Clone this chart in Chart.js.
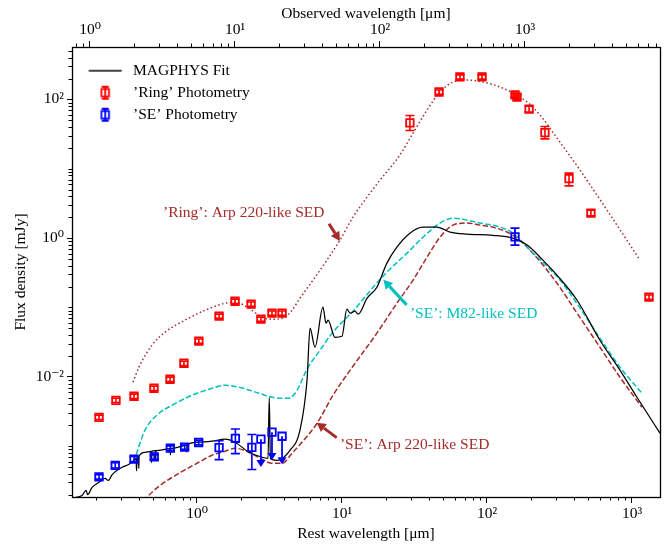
<!DOCTYPE html>
<html>
<head>
<meta charset="utf-8">
<script src="https://cdn.jsdelivr.net/npm/chart.js@4.4.1/dist/chart.umd.min.js"></script>
<style>
html,body{margin:0;padding:0;background:#ffffff;}
canvas{display:block;}
</style>
</head>
<body>
<canvas id="sed" width="669" height="545"></canvas>
<script>
// ---------------- DATA ----------------
// MAGPHYS fit (rest wavelength in micron, flux density in mJy)
const fitWavelength = [0.14, 0.161, 0.172, 0.176, 0.189, 0.21, 0.232, 0.245, 0.26, 0.304, 0.34, 0.368, 0.38, 0.383, 0.386, 0.395, 0.397, 0.399, 0.438, 0.483, 0.486, 0.489, 0.517, 0.519, 0.521, 0.547, 0.653, 0.656, 0.659, 0.673, 0.826, 0.85, 0.853, 0.856, 1.03, 1.27, 1.56, 1.83, 2.28, 2.81, 3.09, 3.15, 3.21, 3.56, 4.38, 5.13, 5.74, 6.02, 6.51, 7.39, 7.76, 8.0, 8.95, 10.0, 10.8, 11.4, 12.3, 12.9, 14.9, 17.4, 20.4, 23.9, 29.4, 36.2, 45.2, 55.6, 72.8, 110, 151, 189, 243, 304, 418, 601, 826, 1082, 1560];
const fitFlux = [1.8e-4, 1.95e-4, 2.3e-4, 2.0e-4, 2.55e-4, 3.0e-4, 3.44e-4, 3.2e-4, 3.9e-4, 4.96e-4, 5.5e-4, 6.26e-4, 6.6e-4, 4.4e-4, 6.8e-4, 7.0e-4, 4.8e-4, 7.2e-4, 8.17e-4, 8.4e-4, 5.8e-4, 8.5e-4, 8.6e-4, 6.4e-4, 8.65e-4, 8.73e-4, 9.25e-4, 7.5e-4, 9.3e-4, 9.33e-4, 1.03e-3, 1.04e-3, 8.2e-4, 1.045e-3, 1.14e-3, 1.18e-3, 1.26e-3, 1.14e-3, 8.17e-4, 6.92e-4, 6.69e-4, 5.0e-3, 6.6e-4, 6.26e-4, 8.73e-4, 1.70e-3, 8.93e-3, 0.0503, 0.0267, 0.101, 0.0593, 0.0656, 0.0372, 0.0385, 0.0944, 0.0827, 0.0885, 0.080, 0.136, 0.196, 0.436, 0.741, 1.18, 1.44, 1.44, 1.22, 1.14, 1.10, 1.0, 0.793, 0.482, 0.292, 0.127, 0.0337, 0.0125, 5.08e-3, 1.54e-3];

// 'Ring': Arp 220-like SED template (dotted)
const ringSedWavelength = [0.362, 0.398, 0.49, 0.602, 0.826, 1.14, 1.56, 1.83, 2.28, 2.81, 3.29, 4.04, 4.52, 5.13, 6.31, 7.88, 9.68, 11.9, 14.9, 18.3, 25.1, 30.9, 38.6, 47.4, 58.3, 72.8, 100, 137, 189, 232, 304, 438, 672, 1135];
const ringSedFlux = [8.36e-3, 0.0138, 0.0286, 0.0441, 0.0656, 0.0914, 0.115, 0.119, 0.0977, 0.0724, 0.0678, 0.0724, 0.0914, 0.136, 0.248, 0.482, 0.936, 2.01, 3.91, 6.87, 15.8, 32.7, 70.3, 128, 178, 190, 173, 137, 91.7, 59.6, 27.7, 9.58, 2.54, 0.482];

// 'SE': M82-like SED template (cyan dashed)
const seM82Wavelength = [0.366, 0.438, 0.547, 0.673, 0.924, 1.27, 1.56, 1.95, 2.68, 3.29, 4.31, 4.90, 5.74, 7.05, 8.67, 11.9, 16.4, 20.4, 28.1, 36.2, 47.4, 58.3, 72.8, 89.5, 123, 151, 198, 319, 438, 601, 826, 1172];
const seM82Flux = [5.92e-4, 1.70e-3, 2.98e-3, 3.89e-3, 5.42e-3, 6.84e-3, 7.56e-3, 7.08e-3, 5.80e-3, 5.08e-3, 4.91e-3, 6.41e-3, 0.0129, 0.0242, 0.0441, 0.0885, 0.196, 0.323, 0.608, 1.03, 1.65, 1.94, 1.82, 1.65, 1.44, 1.18, 0.671, 0.248, 0.0977, 0.0361, 0.0138, 5.80e-3];

// 'SE': Arp 220-like SED template (brown dashed)
const seArpWavelength = [0.43, 0.452, 0.547, 0.751, 1.03, 1.27, 1.56, 1.83, 2.28, 2.81, 3.29, 3.86, 4.52, 5.30, 6.73, 8.67, 11.9, 17.4, 23.9, 30.9, 38.6, 47.4, 58.3, 72.8, 89.5, 110, 151, 198, 304, 418, 601, 826, 1172];
const seArpFlux = [1.6e-4, 1.83e-4, 2.64e-4, 4.06e-4, 5.86e-4, 7.40e-4, 8.44e-4, 9.33e-4, 8.17e-4, 6.47e-4, 5.66e-4, 5.66e-4, 7.91e-4, 1.14e-3, 2.14e-3, 5.42e-3, 0.0142, 0.0426, 0.115, 0.248, 0.532, 1.03, 1.54, 1.65, 1.54, 1.44, 1.10, 0.671, 0.224, 0.0827, 0.0267, 9.86e-3, 3.64e-3];

// 'Ring' photometry
const ringWavelength = [0.211, 0.276, 0.368, 0.505, 0.652, 0.813, 1.03, 1.42, 1.83, 2.36, 2.76, 3.29, 3.86, 29.4, 46.7, 65.1, 92.4, 156, 161, 195, 251, 368, 521, 1310];
const ringFlux = [0.00261, 0.00459, 0.00525, 0.00684, 0.00923, 0.0157, 0.0327, 0.0748, 0.123, 0.112, 0.0678, 0.0828, 0.0828, 45.8, 128, 211, 211, 116, 108, 72.6, 33.2, 7.19, 2.30, 0.141];
const ringFluxLow = [0.00243, 0.00427, 0.00488, 0.00636, 0.00858, 0.0146, 0.0304, 0.0696, 0.114, 0.104, 0.0631, 0.0770, 0.0770, 35.7, 119, 196, 196, 108, 100, 66.0, 27.0, 5.67, 2.10, 0.131];
const ringFluxHigh = [0.00280, 0.00492, 0.00563, 0.00733, 0.00989, 0.0168, 0.0351, 0.0802, 0.132, 0.120, 0.0727, 0.0888, 0.0888, 58.7, 137, 226, 226, 124, 116, 79.9, 40.6, 8.65, 2.52, 0.151];

// 'SE' photometry (three near-IR points are upper limits)
const seWavelength = [0.211, 0.273, 0.368, 0.507, 0.655, 0.822, 1.027, 1.42, 1.84, 2.39, 2.76, 3.29, 3.86, 156];
const seFlux = [3.6e-4, 5.3e-4, 6.5e-4, 7.0e-4, 9.4e-4, 9.7e-4, 1.13e-3, 9.5e-4, 1.30e-3, 9.6e-4, 1.26e-3, 1.59e-3, 1.39e-3, 1.04];
const seFluxLow = [3.35e-4, 4.85e-4, 5.95e-4, 6.5e-4, 8.7e-4, 9.0e-4, 1.05e-3, 6.4e-4, 7.8e-4, 4.6e-4, 5.0e-4, 6.3e-4, 5.5e-4, 0.79];
const seFluxHigh = [3.87e-4, 5.8e-4, 7.1e-4, 7.5e-4, 1.01e-3, 1.04e-3, 1.21e-3, 1.20e-3, 1.77e-3, 1.47e-3, 1.26e-3, 1.59e-3, 1.39e-3, 1.39];
const seUpperLimit = [false, false, false, false, false, false, false, false, false, false, true, true, true, false];

// Annotations
const annotationTexts = ['\u2019Ring\u2019: Arp 220-like SED', '\u2019SE\u2019: M82-like SED', '\u2019SE\u2019: Arp 220-like SED'];
const annotationTextX = [0.583, 29.4, 9.68];
const annotationTextY = [2.32, 0.0811, 1.03e-3];
const annotationFromX = [8.13, 27.9, 9.19];
const annotationFromY = [1.61, 0.109, 1.33e-3];
const annotationToX = [9.68, 19.3, 6.69];
const annotationToY = [0.91, 0.251, 2.18e-3];

// Axes
const restMin = 0.1374, restMax = 1560;      // rest wavelength range
const fluxMin = 1.85e-4, fluxMax = 570;      // flux density range
const observedPerRest = 5.47;                // (1+z)
const xTickValues = [1, 10, 100, 1000];
const xTickLabels = ['10\u2070', '10\u00b9', '10\u00b2', '10\u00b3'];
const topTickValues = [1, 10, 100, 1000];
const topTickLabels = ['10\u2070', '10\u00b9', '10\u00b2', '10\u00b3'];
const yTickValues = [0.01, 1, 100];
const yTickLabels = ['10\u207b\u00b2', '10\u2070', '10\u00b2'];
const legendLabels = ['MAGPHYS Fit', '\u2019Ring\u2019 Photometry', '\u2019SE\u2019 Photometry'];

// ---------------- STYLE ----------------
const FONT = "'Liberation Serif', 'Times New Roman', 'DejaVu Serif', serif";
const FS = 15.5;
const RED = '#ff0000', BLUE = '#0000ff', BROWN = '#a52a2a', CYAN = '#00bfbf';

function zip(xs, ys) { return xs.map((v, i) => ({x: v, y: ys[i]})); }
function minorTicks(min, max, majors) {
  const out = [];
  for (let k = -5; k <= 5; k++) {
    for (let m = 1; m <= 9; m++) {
      const v = Number((m * Math.pow(10, k)).toPrecision(10));
      if (v >= min && v <= max && !majors.some(t => Math.abs(t - v) / t < 1e-9)) out.push(v);
    }
  }
  return out;
}
function findIndex(arr, v) { return arr.findIndex(t => Math.abs(t - v) / t < 1e-6); }

const xMinor = minorTicks(restMin, restMax, xTickValues);
const topMinor = minorTicks(restMin * observedPerRest, restMax * observedPerRest, topTickValues);
const yMinor = minorTicks(fluxMin, fluxMax, yTickValues);

function makeIcon(kind, color) {
  const c = document.createElement('canvas');
  c.width = 40; c.height = 16;
  const g = c.getContext('2d');
  g.strokeStyle = color;
  if (kind === 'line') {
    g.lineWidth = 1.3;
    g.beginPath(); g.moveTo(3.5, 8); g.lineTo(36.5, 8); g.stroke();
  } else {
    g.lineWidth = 1.8;
    g.strokeRect(16.25, 4.25, 7.5, 7.5);
    g.beginPath();
    g.moveTo(20, 2); g.lineTo(20, 14);
    g.moveTo(16.5, 2); g.lineTo(23.5, 2);
    g.moveTo(16.5, 14); g.lineTo(23.5, 14);
    g.stroke();
  }
  return c;
}

function axisFont() { return {family: FONT, size: FS}; }

// ---------------- PLUGINS ----------------
const decorPlugin = {
  id: 'decor',
  afterLayout(chart) {
    const lg = chart.legend;
    if (lg) { lg.left = chart.chartArea.left + 6.75; lg.top = chart.chartArea.top + 9.45; }
  },
  afterDraw(chart) {
    const {ctx, chartArea: a, scales} = chart;
    ctx.save();
    ctx.strokeStyle = '#000'; ctx.lineWidth = 1;
    const L = 3.5;
    ctx.beginPath();
    xMinor.forEach(v => { const p = Math.round(scales.x.getPixelForValue(v)) + 0.5; ctx.moveTo(p, a.bottom); ctx.lineTo(p, a.bottom + L); });
    topMinor.forEach(v => { const p = Math.round(scales.xTop.getPixelForValue(v)) + 0.5; ctx.moveTo(p, a.top); ctx.lineTo(p, a.top - L); });
    yMinor.forEach(v => { const p = Math.round(scales.y.getPixelForValue(v)) + 0.5; ctx.moveTo(a.left, p); ctx.lineTo(a.left - L, p); });
    ctx.stroke();
    ctx.lineWidth = 1.3;
    ctx.strokeRect(a.left + 0.5, a.top + 0.5, a.right - a.left, a.bottom - a.top);
    ctx.restore();
  }
};

function arrow(ctx, x0, y0, x1, y1, color, shaft, headLen, headHalf) {
  const ang = Math.atan2(y1 - y0, x1 - x0);
  const bx = x1 - headLen * Math.cos(ang), by = y1 - headLen * Math.sin(ang);
  ctx.strokeStyle = color; ctx.fillStyle = color; ctx.lineWidth = shaft;
  ctx.beginPath(); ctx.moveTo(x0, y0); ctx.lineTo(bx, by); ctx.stroke();
  ctx.beginPath();
  ctx.moveTo(x1, y1);
  ctx.lineTo(bx + headHalf * Math.sin(ang), by - headHalf * Math.cos(ang));
  ctx.lineTo(bx - headHalf * Math.sin(ang), by + headHalf * Math.cos(ang));
  ctx.closePath(); ctx.fill();
}

const errorPlugin = {
  id: 'errors',
  afterDatasetsDraw(chart) {
    const {ctx, chartArea: a, scales: {x, y}} = chart;
    ctx.save();
    ctx.beginPath(); ctx.rect(a.left, a.top, a.right - a.left, a.bottom - a.top); ctx.clip();
    const sets = [
      {xs: ringWavelength, v: ringFlux, lo: ringFluxLow, hi: ringFluxHigh, ul: null, color: RED},
      {xs: seWavelength, v: seFlux, lo: seFluxLow, hi: seFluxHigh, ul: seUpperLimit, color: BLUE}
    ];
    const cap = 4.5;
    sets.forEach(s => {
      ctx.strokeStyle = s.color; ctx.fillStyle = s.color; ctx.lineWidth = 1.6;
      s.xs.forEach((xv, i) => {
        const px = x.getPixelForValue(xv);
        const pv = y.getPixelForValue(s.v[i]);
        const pl = y.getPixelForValue(s.lo[i]);
        const ph = y.getPixelForValue(s.hi[i]);
        if (s.ul && s.ul[i]) {
          arrow(ctx, px, pv, px, pl, s.color, 1.8, 7, 4.5);
        } else {
          ctx.beginPath();
          ctx.moveTo(px, ph); ctx.lineTo(px, pl);
          ctx.moveTo(px - cap, ph); ctx.lineTo(px + cap, ph);
          ctx.moveTo(px - cap, pl); ctx.lineTo(px + cap, pl);
          ctx.stroke();
        }
      });
    });
    ctx.restore();

    // annotations
    ctx.save();
    const colors = [BROWN, CYAN, BROWN];
    annotationTexts.forEach((t, i) => {
      const c = colors[i];
      const tx = x.getPixelForValue(annotationTextX[i]);
      const ty = y.getPixelForValue(annotationTextY[i]);
      ctx.font = FS + 'px ' + FONT;
      ctx.fillStyle = c; ctx.textAlign = 'left'; ctx.textBaseline = 'middle';
      ctx.fillText(t, tx, ty);
      arrow(ctx, x.getPixelForValue(annotationFromX[i]), y.getPixelForValue(annotationFromY[i]),
            x.getPixelForValue(annotationToX[i]), y.getPixelForValue(annotationToY[i]), c, 3, 9, 5);
    });
    ctx.restore();
  }
};

// ---------------- CHART ----------------
const lineIcon = makeIcon('line', '#000');
const ringIcon = makeIcon('err', RED);
const seIcon = makeIcon('err', BLUE);

new Chart(document.getElementById('sed'), {
  type: 'line',
  data: {
    datasets: [
      {label: legendLabels[1], data: zip(ringWavelength, ringFlux), showLine: false, pointStyle: 'rect', pointRadius: 5.3, pointBorderWidth: 1.8, pointBorderColor: RED, pointBackgroundColor: 'rgba(0,0,0,0)', borderColor: RED},
      {label: legendLabels[2], data: zip(seWavelength, seFlux), showLine: false, pointStyle: 'rect', pointRadius: 5.3, pointBorderWidth: 1.8, pointBorderColor: BLUE, pointBackgroundColor: 'rgba(0,0,0,0)', borderColor: BLUE},
      {label: legendLabels[0], data: zip(fitWavelength, fitFlux), borderColor: '#000', borderWidth: 1.25, pointRadius: 0, cubicInterpolationMode: 'monotone', fill: false},
      {label: 'ring-sed', data: zip(ringSedWavelength, ringSedFlux), borderColor: BROWN, borderWidth: 1.5, borderDash: [1.5, 2.5], pointRadius: 0, cubicInterpolationMode: 'monotone', fill: false},
      {label: 'se-m82', data: zip(seM82Wavelength, seM82Flux), borderColor: CYAN, borderWidth: 1.5, borderDash: [5.5, 2.4], pointRadius: 0, cubicInterpolationMode: 'monotone', fill: false},
      {label: 'se-arp', data: zip(seArpWavelength, seArpFlux), borderColor: BROWN, borderWidth: 1.5, borderDash: [5.5, 2.4], pointRadius: 0, cubicInterpolationMode: 'monotone', fill: false}
    ]
  },
  options: {
    responsive: false,
    animation: false,
    devicePixelRatio: 1,
    events: [],
    layout: {padding: {left: 0, top: 0, right: 9, bottom: 0}},
    plugins: {
      tooltip: {enabled: false},
      legend: {
        position: 'chartArea',
        align: 'start',
        labels: {
          usePointStyle: true,
          pointStyleWidth: 40,
          padding: 6.5,
          color: '#000',
          font: axisFont(),
          generateLabels: () => [
            {text: legendLabels[0], pointStyle: lineIcon, fillStyle: 'rgba(0,0,0,0)', strokeStyle: 'rgba(0,0,0,0)', lineWidth: 0, fontColor: '#000', hidden: false, datasetIndex: 2},
            {text: legendLabels[1], pointStyle: ringIcon, fillStyle: 'rgba(0,0,0,0)', strokeStyle: 'rgba(0,0,0,0)', lineWidth: 0, fontColor: '#000', hidden: false, datasetIndex: 0},
            {text: legendLabels[2], pointStyle: seIcon, fillStyle: 'rgba(0,0,0,0)', strokeStyle: 'rgba(0,0,0,0)', lineWidth: 0, fontColor: '#000', hidden: false, datasetIndex: 1}
          ]
        }
      }
    },
    scales: {
      x: {
        type: 'logarithmic', position: 'bottom', bounds: 'data',
        min: restMin, max: restMax,
        afterBuildTicks: s => { s.ticks = xTickValues.concat(xMinor).sort((a, b) => a - b).map(v => ({value: v})); },
        afterFit: s => { s.height = 48; },
        ticks: {autoSkip: false, maxRotation: 0, minRotation: 0, padding: 2, color: '#000', font: axisFont(),
                callback: v => { const i = findIndex(xTickValues, v); return i >= 0 ? xTickLabels[i] : ''; }},
        grid: {drawOnChartArea: false, drawTicks: true, tickLength: 6,
               tickColor: c => (c.tick && findIndex(xTickValues, c.tick.value) >= 0) ? '#000' : 'rgba(0,0,0,0)'},
        border: {display: true, color: '#000', width: 1},
        title: {display: true, text: 'Rest wavelength [\u03bcm]', color: '#000', font: axisFont(), padding: {top: 0, bottom: 1.7}}
      },
      xTop: {
        type: 'logarithmic', position: 'top', axis: 'x', bounds: 'data',
        min: restMin * observedPerRest, max: restMax * observedPerRest,
        afterBuildTicks: s => { s.ticks = topTickValues.concat(topMinor).sort((a, b) => a - b).map(v => ({value: v})); },
        afterFit: s => { s.height = 47; },
        ticks: {autoSkip: false, maxRotation: 0, minRotation: 0, padding: 2, color: '#000', font: axisFont(),
                callback: v => { const i = findIndex(topTickValues, v); return i >= 0 ? topTickLabels[i] : ''; }},
        grid: {drawOnChartArea: false, drawTicks: true, tickLength: 6,
               tickColor: c => (c.tick && findIndex(topTickValues, c.tick.value) >= 0) ? '#000' : 'rgba(0,0,0,0)'},
        border: {display: true, color: '#000', width: 1},
        title: {display: true, text: 'Observed wavelength [\u03bcm]', color: '#000', font: axisFont(), padding: {top: 4.5, bottom: 0}}
      },
      y: {
        type: 'logarithmic', position: 'left', bounds: 'data',
        min: fluxMin, max: fluxMax,
        afterBuildTicks: s => { s.ticks = yTickValues.concat(yMinor).sort((a, b) => a - b).map(v => ({value: v})); },
        afterFit: s => { s.width = 72; },
        ticks: {autoSkip: false, padding: 3, color: '#000', font: axisFont(),
                callback: v => { const i = findIndex(yTickValues, v); return i >= 0 ? yTickLabels[i] : ''; }},
        grid: {drawOnChartArea: false, drawTicks: true, tickLength: 5,
               tickColor: c => (c.tick && findIndex(yTickValues, c.tick.value) >= 0) ? '#000' : 'rgba(0,0,0,0)'},
        border: {display: true, color: '#000', width: 1},
        title: {display: true, text: 'Flux density [mJy]', color: '#000', font: axisFont(), padding: {top: 12, bottom: 0}}
      }
    }
  },
  plugins: [decorPlugin, errorPlugin]
});
</script>
</body>
</html>
